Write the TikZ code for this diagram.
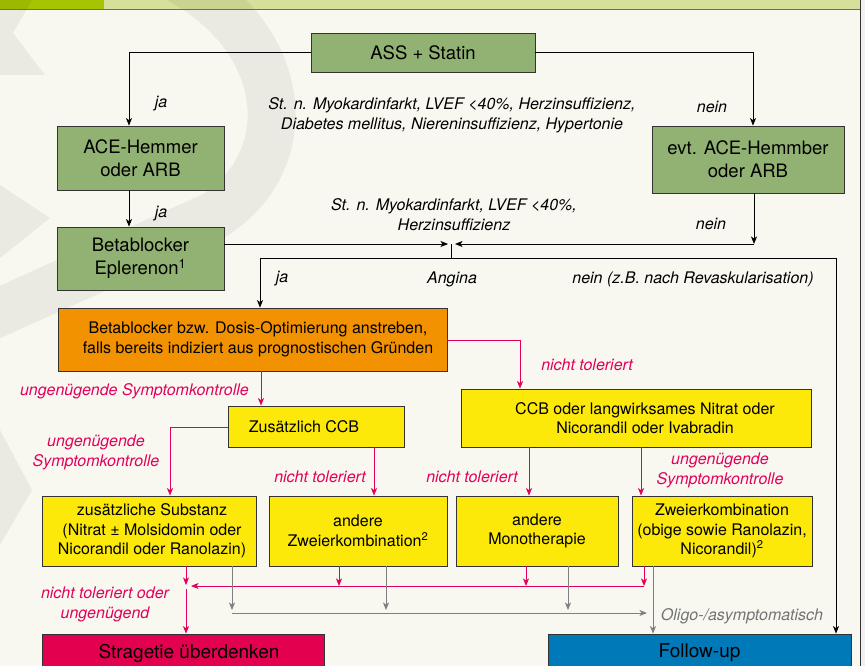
\documentclass[tikz,border=0pt]{standalone}
\usepackage{fontspec}
\setmainfont{TeX Gyre Heros}
\usetikzlibrary{arrows.meta,calc}
\definecolor{bgc}{HTML}{F8F8F1}
\definecolor{hdl}{HTML}{D6E09B}
\definecolor{hdd}{HTML}{A8C300}
\definecolor{hline}{HTML}{6E6E55}
\definecolor{grn}{HTML}{92B273}
\definecolor{orc}{HTML}{F39200}
\definecolor{yel}{HTML}{FCE90A}
\definecolor{rc}{HTML}{E3005A}
\definecolor{rbox}{HTML}{E2004F}
\definecolor{blc}{HTML}{0079B8}
\definecolor{gyc}{HTML}{808080}
\definecolor{bd}{HTML}{333333}
\begin{document}
\begin{tikzpicture}[x=1pt,y=-1pt,
  box/.style={draw=bd, line width=0.8pt, inner sep=0pt, align=center},
  gbox/.style={box, fill=grn, font=\fontsize{18.5}{23}\selectfont},
  ybox/.style={box, fill=yel, font=\fontsize{16}{19.5}\selectfont},
  lab/.style={font=\fontsize{16}{20}\selectfont\itshape, align=center, inner sep=0pt},
  rlab/.style={lab, text=rc},
  arr/.style={-{Stealth[length=7.5pt,width=6pt,inset=2pt]}, line width=0.8pt, draw=black},
  rarr/.style={-{Stealth[length=7.5pt,width=6pt,inset=2pt]}, line width=0.9pt, draw=rc},
  garr/.style={-{Stealth[length=7.5pt,width=6pt,inset=2pt]}, line width=0.9pt, draw=gyc},
  wm/.style={fill=black, opacity=0.055}
]
\useasboundingbox (0,0) rectangle (865,666);
\fill[bgc] (0,0) rectangle (865,666);
% header
\fill[hdl] (0,0) rectangle (860,9.5);
\fill[hdd] (0,0) rectangle (104,9.5);
% watermark
\draw[black, opacity=0.055, line width=48pt, line join=round]
  (180,-20) .. controls (290,40) and (300,160) .. (215,215) -- (-40,330);
\fill[wm] (0,0) -- (32,0) -- (13,33) -- (45,75) -- (0,75) -- cycle;
\fill[wm] (0,185) -- (50,218) -- (0,258) -- cycle;
\fill[wm] (0,430) -- (32,490) -- (0,545) -- cycle;
\draw[hline, line width=1.2pt] (0,9.8) -- (860,9.8);
% right edge
\fill[black!6] (861,0) rectangle (865,666);
\draw[black!80, line width=1pt] (860.5,0) -- (860.5,666);

% boxes
\node[gbox, minimum width=224pt, minimum height=39pt] (ass) at (423,52.5) {ASS + Statin};
\node[gbox, minimum width=167pt, minimum height=64pt] (ace) at (140.5,158) {ACE-Hemmer\\oder ARB};
\node[gbox, minimum width=192pt, minimum height=67pt] (evt) at (748,159.5) {evt. ACE-Hemmber\\oder ARB};
\node[gbox, minimum width=167pt, minimum height=63pt] (beta) at (140.5,258.5) {Betablocker\\Eplerenon\textsuperscript{1}};
\node[box, fill=orc, font=\fontsize{16}{19.5}\selectfont, minimum width=389pt, minimum height=63pt] (opt) at (252.5,339.5)
  {\hspace*{11pt}Betablocker bzw. Dosis-Optimierung anstreben,\\\hspace*{11pt}falls bereits indiziert aus prognostischen Gründen};
\node[ybox, minimum width=176pt, minimum height=41pt] (zccb) at (316,426.5) {Zusätzlich CCB\hspace*{24pt}};
\node[ybox, minimum width=350pt, minimum height=58pt] (ccb) at (636,418)
  {\hspace*{18pt}CCB oder langwirksames Nitrat oder\\\hspace*{18pt}Nicorandil oder Ivabradin};
\node[ybox, minimum width=214pt, minimum height=70pt] (subst) at (149,531)
  {\hspace*{6pt}zusätzliche Substanz\\\hspace*{6pt}(Nitrat ± Molsidomin oder\\\hspace*{6pt}Nicorandil oder Ranolazin)};
\node[ybox, minimum width=178pt, minimum height=70pt] (zweier) at (358,531) {andere\\Zweierkombination\textsuperscript{2}};
\node[ybox, minimum width=162pt, minimum height=70pt] (mono) at (537,531) {andere\\Monotherapie};
\node[ybox, minimum width=180pt, minimum height=70pt] (zk) at (722,531) {Zweierkombination\\(obige sowie Ranolazin,\\Nicorandil)\textsuperscript{2}};
\node[box, fill=rbox, font=\fontsize{19}{23}\selectfont, minimum width=282pt, minimum height=38pt] (strat) at (183,653) {\hspace*{12pt}Stragetie überdenken};
\node[box, fill=blc, font=\fontsize{19}{23}\selectfont, minimum width=303pt, minimum height=38pt] (follow) at (699.5,653) {Follow-up};

% labels
\node[lab] (ja1) at (161,104) {ja};
\node[lab] (nein1) at (712,107) {nein};
\node[lab] (cond1) at (452,115) {St. n. Myokardinfarkt, LVEF <40\%, Herzinsuffizienz,\\Diabetes mellitus, Niereninsuffizienz, Hypertonie};
\node[lab] (ja2) at (161,214) {ja};
\node[lab] (nein2) at (711,224) {nein};
\node[lab] (cond2) at (454,215) {St. n. Myokardinfarkt, LVEF <40\%,\\Herzinsuffizienz};
\node[lab] (ja3) at (282,279) {ja};
\node[lab] (ang) at (452,279) {Angina};
\node[lab] (nein3) at (693,279) {nein (z.B. nach Revaskularisation)};
\node[rlab, anchor=east] (r1) at (249,391) {ungenügende Symptomkontrolle};
\node[rlab] (r2) at (587,365) {nicht toleriert};
\node[rlab] (r3) at (96,452) {ungenügende\\Symptomkontrolle};
\node[rlab] (r4) at (320,477) {nicht toleriert};
\node[rlab] (r5) at (472,477) {nicht toleriert};
\node[rlab] (r6) at (720,470) {ungenügende\\Symptomkontrolle};
\node[rlab] (r7) at (105,604) {nicht toleriert oder\\ungenügend};
\node[lab, text=gyc!90!black] (oligo) at (742,616) {Oligo-/asymptomatisch};

% black connectors
\coordinate (mL) at (448,244);
\coordinate (mR) at (455,244);
\coordinate (mC) at (451.5,244);
\coordinate (sp) at (451.5,258);
\coordinate (cr) at (754,244);
\draw[arr] (ass.west) -| (129,0 |- ace.north);
\draw[arr] (ass.east) -| (753,0 |- evt.north);
\draw[arr] (129,0 |- ace.south) -- (129,0 |- beta.north);
\draw[arr] (beta.east |- mL) -- (mL);
\draw[arr] (754,0 |- evt.south) -- (cr);
\draw[arr] (cr) -- (mR);
\draw[line width=0.8pt] (mC) -- (sp);
\draw[arr] (sp) -| (260,0 |- opt.north);
\draw[arr] (sp) -| (836,0 |- follow.north);

% red connectors
\coordinate (rE) at (644,586);
\coordinate (rW) at (191,586);
\coordinate (rJ) at (186,585);
\coordinate (rS) at (186,589);
\draw[rarr] (261,0 |- opt.south) -- (261,0 |- zccb.north);
\draw[rarr] (opt.east |- 0,340) -| (520,0 |- ccb.north);
\draw[rarr] (zccb.west |- 0,427) -| (170,0 |- subst.north);
\draw[rarr] (374,0 |- zccb.south) -- (374,0 |- zweier.north);
\draw[rarr] (529,0 |- ccb.south) -- (529,0 |- mono.north);
\draw[rarr] (641,0 |- ccb.south) -- (641,0 |- zk.north);
\draw[rarr] (186,0 |- subst.south) -- (rJ);
\draw[rarr] (644,0 |- zk.south) -- (rE);
\draw[rarr] (rE) -- (rW);
\draw[rarr] (339,0 |- zweier.south) -- (339,586);
\draw[rarr] (526,0 |- mono.south) -- (526,586);
\draw[rarr] (rS) -- (186,0 |- strat.north);

% grey connectors
\coordinate (gW) at (232,613);
\coordinate (gE) at (647,613);
\draw[garr] (232,0 |- subst.south) -- (232,610);
\draw[garr] (386,0 |- zweier.south) -- (386,610);
\draw[garr] (568,0 |- mono.south) -- (568,610);
\draw[garr] (gW) -- (gE);
\draw[garr] (653,0 |- zk.south) -- (653,0 |- follow.north);
\end{tikzpicture}
\end{document}
